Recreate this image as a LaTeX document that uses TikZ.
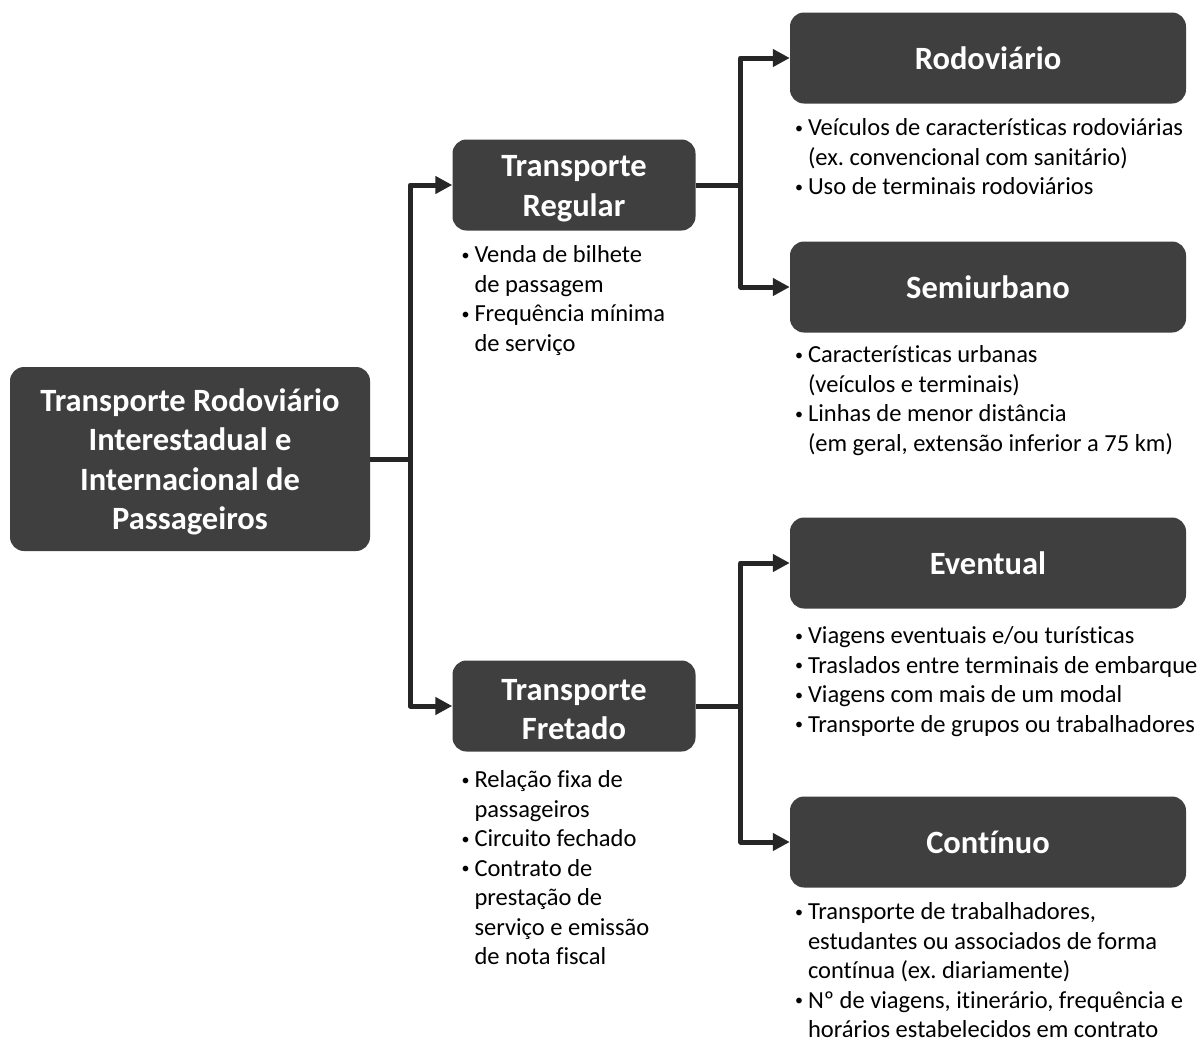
\documentclass[tikz,border=0pt]{standalone}
\usepackage{fontspec}
\setmainfont{Carlito}[Ligatures={NoCommon,NoRare,NoContextual}]
\usetikzlibrary{arrows.meta,positioning}
\frenchspacing
\definecolor{boxgray}{HTML}{3F3F3F}
\definecolor{linegray}{HTML}{262626}
% bullet and hanging indent for the lists
\newcommand{\bul}{\strut\makebox[13pt][l]{\raisebox{2.5pt}{\fontsize{16}{16}\selectfont\textbullet}}}
\newcommand{\ind}{\hspace*{13pt}}
% taller first line of a heading
\newcommand{\hdtop}{\rule{0pt}{28.5pt}}
\tikzset{
    %Define style for boxes
    topbox/.style={
           rectangle,
           rounded corners=14pt,
           fill=boxgray,
           text=white,
           inner sep=0pt,
           align=center,
           font=\fontsize{32.5}{39.5}\selectfont\bfseries},
    rootbox/.style={topbox, minimum width=360pt, minimum height=184pt},
    midbox/.style={topbox, minimum width=243pt, minimum height=91pt},
    leafbox/.style={topbox, minimum width=396pt, minimum height=91pt},
    % Define style for bullet lists
    notes/.style={
           inner sep=0pt,
           align=left,
           text=black,
           font=\fontsize{24.5}{29.5}\selectfont},
    % Define arrow style
    pil/.style={
           -{Triangle[length=17pt,width=17pt]},
           line width=5pt,
           draw=linegray,
           line join=round}
}
\begin{document}
\begin{tikzpicture}[x=1pt,y=-1pt]
\useasboundingbox (0,0) rectangle (1203,1039);
\node[rootbox](root) at (190,459){\hdtop Transporte Rodoviário\\Interestadual e\\Internacional de\\Passageiros};
\node[midbox](reg) at (574,185){\hdtop Transporte\\Regular};
\node[midbox](fre) at (574,706){\hdtop Transporte\\Fretado};
\node[leafbox](rod) at (988,58){Rodoviário};
\node[leafbox](semi) at (988,287){Semiurbano};
\node[leafbox](even) at (988,563){Eventual};
\node[leafbox](cont) at (988,842){Contínuo};
% lists below the boxes
\node[notes, below right=11pt and 9pt of reg.south west](regnotes){%
\bul Venda de bilhete\\\ind de passagem\\\bul Frequência mínima\\\ind de serviço};
\node[notes, below right=15pt and 9pt of fre.south west](frenotes){%
\bul Relação fixa de\\\ind passageiros\\\bul Circuito fechado\\\bul Contrato de\\\ind prestação de\\\ind serviço e emissão\\\ind de nota fiscal};
\node[notes, below right=11pt and 5pt of rod.south west](rodnotes){%
\bul Veículos de características rodoviárias\\\ind (ex. convencional com sanitário)\\\bul Uso de terminais rodoviários};
\node[notes, below right=9pt and 5pt of semi.south west](seminotes){%
\bul Características urbanas\\\ind (veículos e terminais)\\\bul Linhas de menor distância\\\ind (em geral, extensão inferior a 75 km)};
\node[notes, below right=14pt and 5pt of even.south west](evennotes){%
\bul Viagens eventuais e/ou turísticas\\\bul Traslados entre terminais de embarque\\\bul Viagens com mais de um modal\\\bul Transporte de grupos ou trabalhadores};
\node[notes, below right=11pt and 5pt of cont.south west](contnotes){%
\bul Transporte de trabalhadores,\\\ind estudantes ou associados de forma\\\ind contínua (ex. diariamente)\\\bul Nº de viagens, itinerário, frequência e\\\ind horários estabelecidos em contrato};
% connectors
\draw[pil] (root.east) -- ++(40,0) |- (reg.west);
\draw[pil] (root.east) -- ++(40,0) |- (fre.west);
\draw[pil] (reg.east) -- ++(45,0) |- (rod.west);
\draw[pil] (reg.east) -- ++(45,0) |- (semi.west);
\draw[pil] (fre.east) -- ++(45,0) |- (even.west);
\draw[pil] (fre.east) -- ++(45,0) |- (cont.west);
\end{tikzpicture}
\end{document}
